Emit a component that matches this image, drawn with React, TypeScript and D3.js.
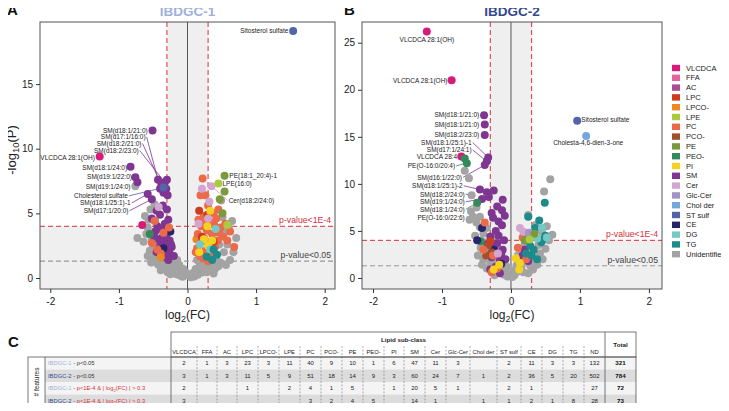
import React, { useRef, useEffect } from "react";
import * as d3 from "d3";

const FONT = "'Liberation Sans', Arial, Helvetica, sans-serif";

// legend order + colours
const lipidClasses = ["VLCDCA", "FFA", "AC", "LPC", "LPCO-", "LPE", "PC", "PCO-", "PE", "PEO-", "PI", "SM", "Cer", "Glc-Cer", "Chol der", "ST sulf", "CE", "DG", "TG", "Unidentified"];
const classColors = ["#d81b7a", "#e3649f", "#ad4c95", "#cf3b1d", "#ec8a22", "#aacb3e", "#ea6a4a", "#a0512c", "#7c9a3d", "#34895a", "#f4d21d", "#7e3692", "#d3a6d2", "#a493c9", "#74a8dc", "#5265aa", "#26256b", "#76c8c4", "#1e8b8b", "#a3a3a3"];

type Pt = [number, number, string]; // log2(FC), -log10(P), class

// IBDGC-1
const panelAPoints: Pt[] = [
  // unidentified
  [-0.76, 7.1, "Unidentified"], [-0.54, 5.3, "Unidentified"], [-0.48, 5.7, "Unidentified"], [-0.62, 4.8, "Unidentified"], [-0.58, 3.9, "Unidentified"],
  [-0.73, 3.1, "Unidentified"], [-0.64, 2.8, "Unidentified"], [-0.6, 3.4, "Unidentified"], [-0.5, 2.5, "Unidentified"], [-0.55, 2.1, "Unidentified"],
  [-0.46, 1.9, "Unidentified"], [-0.41, 1.4, "Unidentified"], [-0.36, 1.1, "Unidentified"], [-0.31, 0.9, "Unidentified"], [-0.27, 0.7, "Unidentified"],
  [-0.21, 0.5, "Unidentified"], [-0.16, 0.3, "Unidentified"], [-0.11, 0.2, "Unidentified"], [-0.07, 0.1, "Unidentified"], [-0.23, 1.2, "Unidentified"],
  [-0.18, 0.95, "Unidentified"], [-0.13, 0.6, "Unidentified"], [-0.09, 0.45, "Unidentified"], [-0.04, 0.25, "Unidentified"], [-0.29, 0.45, "Unidentified"],
  [-0.34, 0.75, "Unidentified"], [-0.43, 1.05, "Unidentified"], [-0.49, 1.5, "Unidentified"], [-0.15, 1.4, "Unidentified"], [-0.12, 1.0, "Unidentified"],
  [-0.06, 0.7, "Unidentified"], [-0.25, 0.3, "Unidentified"], [-0.39, 0.6, "Unidentified"], [-0.53, 1.2, "Unidentified"], [-0.58, 1.7, "Unidentified"],
  [-0.44, 2.3, "Unidentified"], [-0.52, 3.0, "Unidentified"], [-0.4, 2.8, "Unidentified"], [-0.47, 4.4, "Unidentified"], [-0.57, 4.5, "Unidentified"],
  [-0.02, 0.4, "Unidentified"], [-0.2, 1.7, "Unidentified"], [-0.33, 1.6, "Unidentified"], [-0.37, 2.2, "Unidentified"],
  [0.49, 6.0, "Unidentified"], [0.65, 4.4, "Unidentified"], [0.6, 3.9, "Unidentified"], [0.71, 3.1, "Unidentified"], [0.56, 3.6, "Unidentified"],
  [0.46, 2.6, "Unidentified"], [0.53, 2.0, "Unidentified"], [0.41, 1.5, "Unidentified"], [0.48, 1.2, "Unidentified"], [0.36, 1.0, "Unidentified"],
  [0.31, 0.8, "Unidentified"], [0.26, 0.6, "Unidentified"], [0.2, 0.4, "Unidentified"], [0.15, 0.25, "Unidentified"], [0.1, 0.12, "Unidentified"],
  [0.05, 0.05, "Unidentified"], [0.18, 1.1, "Unidentified"], [0.12, 0.7, "Unidentified"], [0.08, 0.38, "Unidentified"], [0.22, 0.9, "Unidentified"],
  [0.28, 0.45, "Unidentified"], [0.4, 0.7, "Unidentified"], [0.56, 1.0, "Unidentified"], [0.62, 1.4, "Unidentified"], [0.02, 0.2, "Unidentified"],
  [0.33, 1.25, "Unidentified"], [0.45, 0.9, "Unidentified"], [0.58, 2.6, "Unidentified"], [0.67, 2.0, "Unidentified"], [0.51, 4.7, "Unidentified"],
  [0.38, 0.35, "Unidentified"], [0.14, 1.4, "Unidentified"],
  // SM
  [-0.51, 11.4, "SM"], [-0.83, 8.6, "SM"], [-0.76, 7.8, "SM"], [-0.73, 7.4, "SM"], [-0.58, 6.5, "SM"], [-0.52, 6.1, "SM"],
  [-0.43, 7.6, "SM"], [-0.33, 7.4, "SM"], [-0.3, 7.6, "SM"], [-0.38, 7.2, "SM"], [-0.31, 6.9, "SM"], [-0.35, 6.6, "SM"],
  [-0.29, 6.4, "SM"], [-0.4, 6.9, "SM"], [-0.36, 5.6, "SM"], [-0.3, 5.3, "SM"], [-0.45, 5.2, "SM"], [-0.4, 4.9, "SM"],
  [-0.52, 4.6, "SM"], [-0.28, 4.5, "SM"], [-0.33, 4.2, "SM"], [-0.44, 4.0, "SM"], [-0.38, 3.8, "SM"], [-0.47, 3.6, "SM"],
  [-0.3, 3.4, "SM"], [-0.36, 3.2, "SM"], [-0.42, 3.0, "SM"], [-0.26, 2.9, "SM"], [-0.33, 2.7, "SM"], [-0.4, 2.5, "SM"],
  [-0.23, 2.4, "SM"], [-0.3, 2.2, "SM"], [-0.36, 2.0, "SM"], [-0.26, 1.9, "SM"], [-0.32, 1.6, "SM"], [-0.2, 1.7, "SM"],
  [-0.28, 1.4, "SM"], [-0.24, 2.6, "SM"], [-0.48, 3.1, "SM"], [-0.45, 2.0, "SM"],
  // others
  [-1.28, 9.4, "VLCDCA"], [-0.66, 4.1, "VLCDCA"],
  [-0.35, 7.0, "ST sulf"], [1.54, 19.1, "ST sulf"],
  [-0.25, 3.6, "CE"], [-0.35, 2.3, "CE"],
  [-0.55, 3.4, "PEO-"],
  [-0.48, 4.4, "PC"], [-0.35, 3.5, "PC"], [-0.52, 2.7, "PC"], [-0.27, 3.9, "PC"], [-0.44, 2.2, "PC"], [-0.39, 1.9, "PC"],
  [-0.39, 1.6, "LPCO-"], [0.13, 3.0, "LPCO-"],
  [-0.42, 5.5, "Cer"],
  [0.22, 7.7, "PC"], [0.19, 6.4, "PC"], [0.26, 6.4, "PC"], [0.45, 5.3, "PC"], [0.3, 5.6, "PC"], [0.38, 5.0, "PC"],
  [0.24, 4.8, "PC"], [0.16, 4.5, "PC"], [0.42, 4.6, "PC"], [0.55, 4.2, "PC"], [0.33, 4.3, "PC"], [0.2, 4.0, "PC"],
  [0.48, 3.9, "PC"], [0.28, 3.7, "PC"], [0.62, 3.6, "PC"], [0.15, 3.4, "PC"], [0.36, 3.4, "PC"], [0.52, 3.2, "PC"],
  [0.24, 3.1, "PC"], [0.44, 2.9, "PC"], [0.19, 2.8, "PC"], [0.31, 2.6, "PC"], [0.68, 2.4, "PC"], [0.4, 2.4, "PC"],
  [0.14, 2.3, "PC"], [0.26, 2.1, "PC"], [0.35, 1.9, "PC"], [0.18, 1.7, "PC"], [0.23, 1.5, "PC"], [0.3, 1.3, "PC"],
  [0.46, 3.5, "PC"], [0.58, 2.9, "PC"], [0.12, 2.0, "PC"], [0.27, 4.4, "PC"], [0.39, 4.1, "PC"],
  [0.29, 4.9, "LPC"], [0.21, 3.2, "LPC"], [0.38, 2.8, "LPC"], [0.17, 5.2, "LPC"],
  [0.35, 7.1, "Cer"], [0.32, 5.9, "Cer"], [0.16, 4.2, "Cer"], [0.3, 4.6, "Cer"], [0.21, 6.9, "Cer"],
  [0.27, 2.8, "Glc-Cer"],
  [0.33, 5.2, "PI"], [0.24, 3.0, "PI"], [0.3, 2.5, "PI"], [0.36, 2.9, "PI"], [0.17, 2.0, "PI"], [0.29, 4.0, "PI"],
  [0.18, 2.6, "DG"], [0.41, 3.8, "DG"], [0.33, 2.2, "DG"],
  [0.38, 2.2, "TG"], [0.36, 1.4, "TG"], [0.43, 1.8, "TG"], [0.28, 1.65, "TG"],
  [0.54, 7.9, "PE"], [0.54, 6.7, "PE"], [0.51, 5.0, "PE"], [0.47, 6.1, "PE"],
  [0.45, 7.3, "LPE"], [0.58, 4.1, "LPE"],
];

// IBDGC-2
const panelBPoints: Pt[] = [
  [-0.67, 11.4, "Unidentified"], [-0.61, 10.6, "Unidentified"], [-0.57, 8.8, "Unidentified"], [-0.55, 6.5, "Unidentified"], [-0.45, 6.5, "Unidentified"],
  [-0.45, 5.4, "Unidentified"], [-0.35, 5.3, "Unidentified"], [-0.6, 6.2, "Unidentified"], [-0.5, 5.9, "Unidentified"], [-0.4, 4.7, "Unidentified"],
  [-0.52, 4.5, "Unidentified"], [-0.38, 3.8, "Unidentified"], [-0.44, 3.2, "Unidentified"], [-0.33, 2.6, "Unidentified"], [-0.4, 2.0, "Unidentified"],
  [-0.3, 1.6, "Unidentified"], [-0.25, 1.2, "Unidentified"], [-0.2, 0.9, "Unidentified"], [-0.15, 0.6, "Unidentified"], [-0.1, 0.35, "Unidentified"],
  [-0.05, 0.15, "Unidentified"], [-0.35, 1.0, "Unidentified"], [-0.28, 0.7, "Unidentified"], [-0.22, 2.0, "Unidentified"], [-0.18, 1.5, "Unidentified"],
  [-0.12, 1.0, "Unidentified"], [-0.08, 0.7, "Unidentified"], [-0.03, 0.4, "Unidentified"], [-0.24, 0.3, "Unidentified"], [-0.36, 3.0, "Unidentified"],
  [-0.48, 2.4, "Unidentified"], [-0.42, 1.4, "Unidentified"], [-0.3, 2.9, "Unidentified"], [-0.15, 2.4, "Unidentified"], [-0.1, 1.8, "Unidentified"],
  [-0.06, 1.2, "Unidentified"], [-0.26, 4.2, "Unidentified"], [-0.2, 3.4, "Unidentified"], [-0.58, 7.1, "Unidentified"], [-0.5, 7.5, "Unidentified"],
  [0.57, 10.5, "Unidentified"], [0.48, 9.2, "Unidentified"], [0.25, 6.7, "Unidentified"], [0.35, 5.6, "Unidentified"], [0.45, 4.9, "Unidentified"],
  [0.55, 4.0, "Unidentified"], [0.4, 3.5, "Unidentified"], [0.3, 2.5, "Unidentified"], [0.22, 1.8, "Unidentified"], [0.15, 1.2, "Unidentified"],
  [0.1, 0.7, "Unidentified"], [0.05, 0.3, "Unidentified"], [0.02, 0.1, "Unidentified"], [0.18, 0.6, "Unidentified"], [0.12, 1.9, "Unidentified"],
  [0.28, 1.3, "Unidentified"], [0.35, 1.9, "Unidentified"], [0.42, 2.6, "Unidentified"], [0.5, 3.1, "Unidentified"], [0.2, 3.6, "Unidentified"],
  [0.08, 1.3, "Unidentified"], [0.25, 0.5, "Unidentified"], [0.32, 0.9, "Unidentified"], [0.38, 1.4, "Unidentified"], [0.46, 2.0, "Unidentified"],
  [0.15, 2.6, "Unidentified"], [0.6, 4.6, "Unidentified"], [0.52, 5.5, "Unidentified"], [0.04, 0.8, "Unidentified"], [0.1, 2.4, "Unidentified"],
  [-0.39, 17.3, "SM"], [-0.38, 16.3, "SM"], [-0.38, 15.2, "SM"], [-0.33, 12.8, "SM"], [-0.35, 12.4, "SM"], [-0.38, 12.0, "SM"],
  [-0.45, 9.4, "SM"], [-0.25, 9.3, "SM"], [-0.32, 8.6, "SM"], [-0.35, 9.1, "SM"], [-0.12, 8.3, "SM"], [-0.2, 7.6, "SM"],
  [-0.28, 6.9, "SM"], [-0.13, 7.2, "SM"], [-0.26, 6.4, "SM"], [-0.42, 8.4, "SM"], [-0.13, 5.6, "SM"], [-0.2, 3.7, "SM"],
  [-0.16, 1.9, "SM"], [-0.12, 3.0, "SM"], [-0.16, 0.5, "SM"], [-0.22, 5.0, "SM"], [-0.3, 4.4, "SM"], [-0.18, 4.5, "SM"],
  [-0.24, 3.2, "SM"], [-0.1, 4.0, "SM"], [-0.28, 2.2, "SM"], [-0.14, 2.6, "SM"], [-0.22, 1.2, "SM"], [-0.3, 0.9, "SM"],
  [-0.08, 2.0, "SM"], [-0.34, 3.6, "SM"], [0.2, 3.0, "SM"], [0.17, 2.4, "SM"], [0.25, 1.8, "SM"], [-0.18, 6.0, "SM"], [-0.09, 6.6, "SM"],
  [-1.22, 26.2, "VLCDCA"], [-0.86, 21.0, "VLCDCA"], [-0.72, 12.9, "VLCDCA"],
  [-0.67, 12.7, "PEO-"], [-0.64, 12.2, "PEO-"], [-0.49, 8.0, "PEO-"], [-0.44, 3.9, "PEO-"],
  [-0.49, 4.0, "CE"], [-0.42, 5.3, "CE"], [-0.25, 3.0, "CE"], [-0.14, 1.5, "CE"],
  [-0.33, 3.5, "PCO-"], [-0.28, 2.7, "PCO-"], [-0.36, 2.4, "PCO-"],
  [-0.38, 5.9, "PC"], [-0.26, 2.4, "PC"], [-0.28, 0.6, "PC"], [-0.4, 3.0, "PC"], [-0.2, 1.0, "PC"],
  [0.17, 4.3, "PC"], [0.1, 3.2, "PC"], [0.28, 4.6, "PC"], [0.22, 2.0, "PC"],
  [-0.3, 3.9, "LPC"],
  [-0.17, 1.4, "PI"], [-0.25, 0.9, "PI"], [0.07, 2.1, "PI"], [0.13, 1.6, "PI"], [0.12, 0.9, "PI"], [0.3, 4.4, "PI"],
  [0.49, 8.0, "TG"], [0.25, 6.5, "TG"], [0.41, 6.1, "TG"], [0.35, 5.3, "TG"], [0.28, 3.4, "TG"], [0.3, 2.4, "TG"],
  [0.22, 2.6, "TG"], [0.44, 3.8, "TG"], [0.5, 4.5, "TG"], [0.38, 2.0, "TG"], [0.33, 3.0, "TG"], [0.46, 4.1, "TG"],
  [0.45, 5.3, "DG"], [0.38, 4.2, "DG"], [0.52, 4.3, "DG"],
  [0.13, 5.3, "Cer"], [0.18, 4.9, "Cer"], [-0.19, 2.6, "Cer"],
  [0.26, 4.8, "Glc-Cer"],
  [0.34, 4.7, "PE"], [0.2, 4.0, "PE"],
  [0.27, 4.1, "LPE"],
  [0.96, 16.7, "ST sulf"], [1.09, 15.1, "Chol der"],
];

// annotations: text, label anchor (data units), anchor side, optional leader target
type Note = { t: string; lx: number; ly: number; a: string; px?: number; py?: number; c?: string };

const panelANotes: Note[] = [
  { t: "SM(d18:1/21:0)", lx: -0.58, ly: 11.4, a: "end" },
  { t: "SM(d17:1/16:0)", lx: -0.61, ly: 10.9, a: "end", px: -0.43, py: 7.6, c: "SM" },
  { t: "SM(d18:2/21:0)", lx: -0.67, ly: 10.4, a: "end", px: -0.38, py: 7.2, c: "SM" },
  { t: "SM(d18:2/23:0)", lx: -0.71, ly: 9.85, a: "end", px: -0.33, py: 7.4, c: "SM" },
  { t: "VLCDCA 28:1(OH)", lx: -1.35, ly: 9.3, a: "end" },
  { t: "SM(d18:1/24:0)", lx: -0.88, ly: 8.55, a: "end" },
  { t: "SM(d19:1/22:0)", lx: -0.81, ly: 7.8, a: "end" },
  { t: "SM(d19:1/24:0)", lx: -0.83, ly: 7.05, a: "end" },
  { t: "Cholesterol sulfate", lx: -0.87, ly: 6.35, a: "end", px: -0.35, py: 7.0, c: "ST sulf" },
  { t: "SM(d18:1/25:1)-1", lx: -0.83, ly: 5.8, a: "end", px: -0.58, py: 6.5, c: "SM" },
  { t: "SM(d17:1/20:0)", lx: -0.86, ly: 5.2, a: "end", px: -0.52, py: 6.1, c: "SM" },
  { t: "PE(18:1_20:4)-1", lx: 0.61, ly: 7.9, a: "start" },
  { t: "LPE(16:0)", lx: 0.51, ly: 7.3, a: "start" },
  { t: "Cer(d18:2/24:0)", lx: 0.6, ly: 6.0, a: "start", px: 0.35, py: 7.1, c: "Cer" },
  { t: "Sitosterol sulfate", lx: 1.47, ly: 19.15, a: "end" },
];

const panelBNotes: Note[] = [
  { t: "VLCDCA 28:1(OH)", lx: -1.22, ly: 25.3, a: "middle" },
  { t: "VLCDCA 28:1(OH)", lx: -0.92, ly: 21.0, a: "end" },
  { t: "SM(d18:1/21:0)", lx: -0.46, ly: 17.3, a: "end" },
  { t: "SM(d18:1/21:0)", lx: -0.46, ly: 16.3, a: "end" },
  { t: "SM(d18:2/23:0)", lx: -0.46, ly: 15.2, a: "end" },
  { t: "SM(d18:1/25:1)-1", lx: -0.57, ly: 14.4, a: "end", px: -0.33, py: 12.8, c: "SM" },
  { t: "SM(d17:1/24:1)", lx: -0.57, ly: 13.6, a: "end", px: -0.35, py: 12.4, c: "SM" },
  { t: "VLCDCA 28:4", lx: -0.78, ly: 12.9, a: "end" },
  { t: "PE(O-16:0/20:4)", lx: -0.81, ly: 11.9, a: "end", px: -0.66, py: 12.2, c: "PEO-" },
  { t: "SM(d16:1/22:0)", lx: -0.71, ly: 10.7, a: "end", px: -0.38, py: 12.0, c: "SM" },
  { t: "SM(d18:1/25:1)-2", lx: -0.7, ly: 9.8, a: "end", px: -0.45, py: 9.4, c: "SM" },
  { t: "SM(d18:2/24:0)", lx: -0.67, ly: 8.9, a: "end", px: -0.57, py: 8.8, c: "SM" },
  { t: "SM(d19:1/24:0)", lx: -0.67, ly: 8.1, a: "end", px: -0.42, py: 8.4, c: "SM" },
  { t: "SM(d18:1/24:0)", lx: -0.67, ly: 7.3, a: "end", px: -0.49, py: 8.0, c: "PEO-" },
  { t: "PE(O-16:0/22:6)", lx: -0.67, ly: 6.45, a: "end" },
  { t: "Sitosterol sulfate", lx: 1.02, ly: 16.8, a: "start" },
  { t: "Cholesta-4,6-dien-3-one", lx: 1.12, ly: 14.4, a: "middle" },
];

// table (panel C)
const tableColumns = ["VLCDCA", "FFA", "AC", "LPC", "LPCO-", "LPE", "PC", "PCO-", "PE", "PEO-", "PI", "SM", "Cer", "Glc-Cer", "Chol der", "ST sulf", "CE", "DG", "TG", "ND"];
const countsG1p05 = [2, 1, 3, 23, 3, 11, 40, 9, 10, 1, 6, 47, 11, 3, null, 2, 11, 3, 3, 132];
const countsG2p05 = [3, 1, 3, 11, 5, 9, 51, 18, 14, 9, 3, 60, 24, 7, 1, 2, 36, 5, 20, 502];
const countsG1strict = [2, null, null, 1, null, 2, 4, 1, 5, null, 1, 20, 5, 1, null, 2, 1, null, null, 27];
const countsG2strict = [3, null, null, null, null, null, 3, 2, 4, 5, null, 14, 1, null, 1, 1, 2, 1, 8, 28];
const rowTotals = [321, 784, 72, 73];

const C1 = "#9fb0db";
const C2 = "#34488f";
const RED = "#d7303a";
const colorOf = (k: string) => classColors[lipidClasses.indexOf(k)];

function drawPanel(root: any, cfg: any) {
  const { x0, x1, y0, y1, yDomain, yTicks, points, notes, title, titleColor, letter, letterX } = cfg;
  const x = d3.scaleLinear().domain(cfg.xDomain).range([x0, x1]);
  const y = d3.scaleLinear().domain(yDomain).range([y1, y0]);
  const g = root.append("g");

  // shaded non-significant zones
  g.append("rect").attr("x", x(-0.3)).attr("y", y0).attr("width", x(0.3) - x(-0.3)).attr("height", y1 - y0).attr("fill", "#efefef");
  g.append("rect").attr("x", x0).attr("y", y(4)).attr("width", x1 - x0).attr("height", y1 - y(4)).attr("fill", "#efefef");

  g.append("line").attr("x1", x(0)).attr("x2", x(0)).attr("y1", y0).attr("y2", y1).attr("stroke", "#555").attr("stroke-width", 1);
  g.append("line").attr("x1", x0).attr("x2", x1).attr("y1", y(-Math.log10(0.05))).attr("y2", y(-Math.log10(0.05)))
    .attr("stroke", "#999").attr("stroke-width", 1.2).attr("stroke-dasharray", "5,3");
  g.append("line").attr("x1", x0).attr("x2", x1).attr("y1", y(4)).attr("y2", y(4))
    .attr("stroke", RED).attr("stroke-width", 1).attr("stroke-dasharray", "5,3");
  [-0.3, 0.3].forEach((v) => {
    g.append("line").attr("x1", x(v)).attr("x2", x(v)).attr("y1", y0).attr("y2", y1)
      .attr("stroke", RED).attr("stroke-width", 1).attr("stroke-dasharray", "5,3");
  });

  g.append("text").attr("x", x1 - 4).attr("y", y(4) - 3).attr("text-anchor", "end")
    .attr("font-size", 8.7).attr("fill", RED).attr("font-family", FONT).text("p-value<1E-4");
  g.append("text").attr("x", x1 - 4).attr("y", y(-Math.log10(0.05)) - 3).attr("text-anchor", "end")
    .attr("font-size", 8.7).attr("fill", "#444").attr("font-family", FONT).text("p-value<0.05");

  // leader lines
  notes.filter((n: Note) => n.px !== undefined).forEach((n: Note) => {
    const sx = n.a === "end" ? x(n.lx) + 1 : x(n.lx) - 1;
    g.append("line").attr("x1", sx).attr("y1", y(n.ly)).attr("x2", x(n.px!)).attr("y2", y(n.py!))
      .attr("stroke", colorOf(n.c!)).attr("stroke-width", 0.8);
  });

  // points: unidentified underneath
  const sorted = points.slice().sort((a: Pt, b: Pt) => (a[2] === "Unidentified" ? 0 : 1) - (b[2] === "Unidentified" ? 0 : 1));
  g.selectAll("circle.pt").data(sorted).enter().append("circle").attr("class", "pt")
    .attr("cx", (d: Pt) => x(d[0])).attr("cy", (d: Pt) => y(d[1])).attr("r", 4)
    .attr("fill", (d: Pt) => colorOf(d[2]));

  notes.forEach((n: Note) => {
    g.append("text").attr("x", x(n.lx)).attr("y", y(n.ly)).attr("dy", "0.35em").attr("text-anchor", n.a)
      .attr("font-size", 6.5).attr("font-family", FONT).attr("fill", "#222").text(n.t);
  });

  g.append("rect").attr("x", x0).attr("y", y0).attr("width", x1 - x0).attr("height", y1 - y0)
    .attr("fill", "none").attr("stroke", "#555").attr("stroke-width", 1);

  const ya = g.append("g").attr("transform", `translate(${x0},0)`)
    .call(d3.axisLeft(y).tickValues(yTicks).tickSize(4).tickPadding(3).tickFormat((d: any) => String(d)));
  const xa = g.append("g").attr("transform", `translate(0,${y1})`)
    .call(d3.axisBottom(x).tickValues([-2, -1, 0, 1, 2]).tickSize(4).tickPadding(5).tickFormat((d: any) => String(d)));
  [ya, xa].forEach((a) => {
    a.select(".domain").remove();
    a.selectAll("text").attr("font-size", 10).attr("font-family", FONT).attr("fill", "#222");
    a.selectAll("line").attr("stroke", "#333");
  });

  const xl = g.append("text").attr("x", (x0 + x1) / 2).attr("y", 319).attr("text-anchor", "middle")
    .attr("font-size", 12).attr("font-family", FONT).attr("fill", "#222");
  xl.append("tspan").text("log");
  xl.append("tspan").attr("font-size", 9).attr("dy", 3).text("2");
  xl.append("tspan").attr("dy", -3).text("(FC)");

  g.append("text").attr("x", (x0 + x1) / 2).attr("y", 16).attr("text-anchor", "middle")
    .attr("font-size", 13.5).attr("font-weight", "bold").attr("font-family", FONT).attr("fill", titleColor).text(title);
  g.append("text").attr("x", letterX).attr("y", 15).attr("font-size", 15).attr("font-weight", "bold")
    .attr("font-family", FONT).attr("fill", "#111").text(letter);
}

function drawTable(root: any) {
  const left = 28, featRight = 45, dataLeft = 171, top = 332, dataTop = 357, rowH = 12.5;
  const colW = [26, 20, 20, 21, 21, 21, 21, 21, 21, 21, 20, 21, 21, 24, 27, 24, 21, 21, 21, 21];
  const totalW = 31;
  const colX: number[] = [];
  colW.reduce((acc, w) => { colX.push(acc); return acc + w; }, dataLeft);
  const ndRight = dataLeft + d3.sum(colW);
  const right = ndRight + totalW;
  const bottom = dataTop + rowH * 4;
  const g = root.append("g").attr("font-family", FONT);
  const rows = [countsG1p05, countsG2p05, countsG1strict, countsG2strict];

  rows.forEach((_, i) => {
    g.append("rect").attr("x", featRight).attr("y", dataTop + i * rowH).attr("width", right - featRight).attr("height", rowH)
      .attr("fill", i % 2 === 0 ? "#f4f4f4" : "#dcdcdc");
  });

  // dashed column separators
  colX.slice(1).forEach((cx) => {
    g.append("line").attr("x1", cx).attr("x2", cx).attr("y1", top + 14).attr("y2", bottom)
      .attr("stroke", "#777").attr("stroke-width", 0.6).attr("stroke-dasharray", "2,1.5");
  });

  g.append("rect").attr("x", dataLeft).attr("y", top).attr("width", right - dataLeft).attr("height", dataTop - top)
    .attr("fill", "none").attr("stroke", "#555").attr("stroke-width", 0.8);
  g.append("rect").attr("x", left).attr("y", dataTop).attr("width", right - left).attr("height", bottom - dataTop)
    .attr("fill", "none").attr("stroke", "#555").attr("stroke-width", 0.8);
  [featRight, dataLeft, ndRight].forEach((vx) => {
    g.append("line").attr("x1", vx).attr("x2", vx).attr("y1", vx === ndRight ? top : dataTop).attr("y2", bottom)
      .attr("stroke", "#555").attr("stroke-width", 0.8);
  });

  g.append("text").attr("x", (dataLeft + right) / 2).attr("y", 342).attr("text-anchor", "middle")
    .attr("font-size", 6.2).attr("font-weight", "bold").attr("fill", "#222").text("Lipid sub-class");
  g.append("text").attr("x", ndRight + totalW / 2).attr("y", 347).attr("text-anchor", "middle")
    .attr("font-size", 6.2).attr("font-weight", "bold").attr("fill", "#222").text("Total");

  tableColumns.forEach((c, j) => {
    g.append("text").attr("x", colX[j] + colW[j] / 2).attr("y", 354).attr("text-anchor", "middle")
      .attr("font-size", 5.8).attr("fill", "#222").text(c);
  });

  rows.forEach((vals, i) => {
    const cy = dataTop + i * rowH + rowH / 2 + 2;
    vals.forEach((v, j) => {
      if (v === null) return;
      g.append("text").attr("x", colX[j] + colW[j] / 2).attr("y", cy).attr("text-anchor", "middle")
        .attr("font-size", 6).attr("fill", "#222").text(v);
    });
    g.append("text").attr("x", ndRight + totalW / 2).attr("y", cy).attr("text-anchor", "middle")
      .attr("font-size", 6.2).attr("font-weight", "bold").attr("fill", "#111").text(rowTotals[i]);

    const lab = g.append("text").attr("x", featRight + 3).attr("y", cy).attr("font-size", 5.8).attr("fill", "#333");
    lab.append("tspan").attr("fill", i % 2 === 0 ? C1 : C2).text(i % 2 === 0 ? "IBDGC-1" : "IBDGC-2");
    if (i < 2) {
      lab.append("tspan").text(" - p<0.05");
    } else {
      lab.append("tspan").text(" - ");
      lab.append("tspan").attr("fill", RED).text("p<1E-4 & | log");
      lab.append("tspan").attr("fill", RED).attr("font-size", 4.2).attr("dy", 1.5).text("2");
      lab.append("tspan").attr("fill", RED).attr("dy", -1.5).text("(FC) | > 0.3");
    }
  });

  g.append("text").attr("transform", `translate(${(left + featRight) / 2 + 2},${(dataTop + bottom) / 2}) rotate(-90)`)
    .attr("text-anchor", "middle").attr("font-size", 6.5).attr("fill", "#222").text("# features");

  g.append("text").attr("x", 8).attr("y", 347).attr("font-size", 15).attr("font-weight", "bold").attr("fill", "#111").text("C");
}

const VolcanoFigure = () => {
  const ref = useRef<SVGSVGElement>(null);

  useEffect(() => {
    const svg = d3.select(ref.current);
    svg.selectAll("*").remove();

    drawPanel(svg, {
      x0: 40, x1: 335, y0: 22, y1: 289, xDomain: [-2.15, 2.15], yDomain: [-0.85, 19.8], yTicks: [0, 5, 10, 15],
      points: panelAPoints, notes: panelANotes, title: "IBDGC-1", titleColor: C1, letter: "A", letterX: 7,
    });
    drawPanel(svg, {
      x0: 362, x1: 662, y0: 22, y1: 289, xDomain: [-2.16, 2.19], yDomain: [-1.17, 27.2], yTicks: [0, 5, 10, 15, 20, 25],
      points: panelBPoints, notes: panelBNotes, title: "IBDGC-2", titleColor: C2, letter: "B", letterX: 344,
    });

    const yl = svg.append("text").attr("transform", "translate(16,150) rotate(-90)").attr("text-anchor", "middle")
      .attr("font-size", 13).attr("font-family", FONT).attr("fill", "#222");
    yl.append("tspan").text("-log");
    yl.append("tspan").attr("font-size", 9.5).attr("dy", 3).text("10");
    yl.append("tspan").attr("dy", -3).text("(P)");

    // legend
    const lg = svg.append("g").attr("font-family", FONT);
    lipidClasses.forEach((c, i) => {
      const ly = 68 + i * 9.8;
      lg.append("rect").attr("x", 672).attr("y", ly - 3.2).attr("width", 8).attr("height", 6.4).attr("fill", classColors[i]);
      lg.append("text").attr("x", 686).attr("y", ly).attr("dy", "0.35em").attr("font-size", 7.5).attr("fill", "#222").text(c);
    });

    drawTable(svg);
  }, []);

  return <svg ref={ref} width={729} height={411} style={{ display: "block" }}></svg>;
};

export default function App() {
  return (
    <div style={{ margin: -8 }}>
      <VolcanoFigure />
    </div>
  );
}
